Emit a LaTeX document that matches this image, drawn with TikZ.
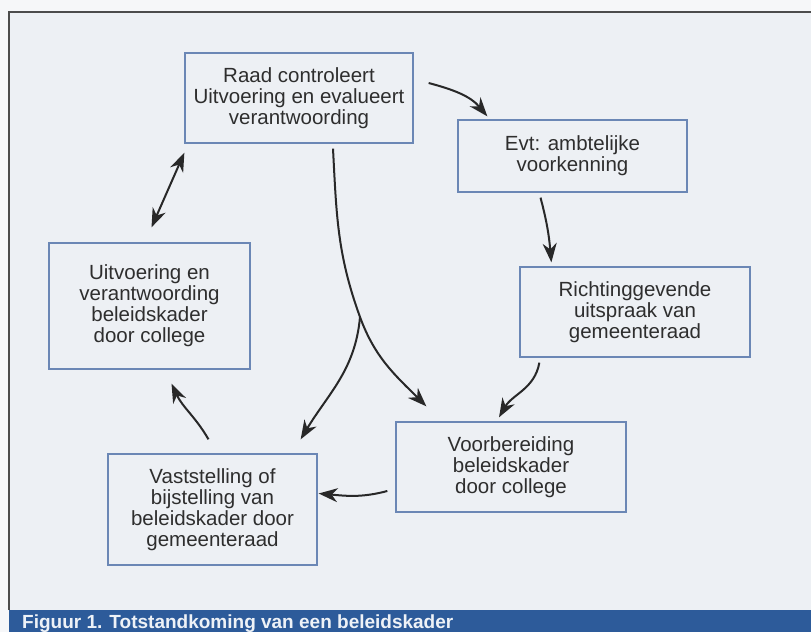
\documentclass[tikz,border=0pt]{standalone}
\usepackage{fontspec}
\setmainfont{Liberation Sans}
\usepackage{tikz}
\usetikzlibrary{arrows.meta}

\definecolor{kader}{RGB}{107,135,181}
\definecolor{vlak}{RGB}{237,240,244}
\definecolor{papier}{RGB}{246,247,249}
\definecolor{balk}{RGB}{45,91,154}
\definecolor{tekst}{RGB}{46,46,46}
\definecolor{lijn}{RGB}{40,40,40}

\tikzset{pijlpunt/.tip={Stealth[length=19pt, width=14pt, inset=6pt]}}

\begin{document}
\begin{tikzpicture}[x=1pt, y=1pt,
	box/.style={draw=kader, line width=1.3pt, text=tekst, align=center, inner sep=0pt, font=\fontsize{20.5}{21}\selectfont},
	pijl/.style={draw=lijn, line width=2pt, -pijlpunt}]
	\useasboundingbox (0,0) rectangle (811,632);
	\fill[papier] (0,0) rectangle (811,632);
	\fill[vlak] (9,22) rectangle (811,620);
	\draw[gray!60!black, line width=1.3pt] (9,22) -- (9,620) -- (811,620);
	\fill[balk] (9,0) rectangle (811,22);
	\node[anchor=base west, inner sep=0pt, text=white!92!balk, font=\fontsize{19}{20}\selectfont\bfseries] (titel) at (22,4) {Figuur 1. Totstandkoming van een beleidskader};
	% beleidscyclus
	\node[box, minimum width=228pt, minimum height=90pt] (A) at (299,534) {Raad controleert\\Uitvoering en evalueert\\verantwoording};
	\node[box, minimum width=229pt, minimum height=72pt] (B) at (572.5,476) {Evt: ambtelijke\\voorkenning};
	\node[box, minimum width=230pt, minimum height=90pt] (C) at (635,320) {Richtinggevende\\uitspraak van\\gemeenteraad};
	\node[box, minimum width=230pt, minimum height=90pt] (D) at (511,165) {Voorbereiding\\beleidskader\\door college};
	\node[box, minimum width=209pt, minimum height=111pt] (E) at (212.5,122.5) {Vaststelling of\\bijstelling van\\beleidskader door\\gemeenteraad};
	\node[box, minimum width=201pt, minimum height=126pt] (F) at (149.5,326) {Uitvoering en\\verantwoording\\beleidskader\\door college};
	\coordinate (split) at (360,315);
	\draw[pijl] ([xshift=15pt, yshift=15pt]A.east) to[out=-15, in=130] ([xshift=30pt, yshift=3pt]B.north west);
	\draw[pijl] ([xshift=-32pt, yshift=-5pt]B.south) to[out=-75, in=95] ([xshift=32pt, yshift=4pt]C.north west);
	\draw[pijl] ([xshift=20pt, yshift=-5pt]C.south west) to[out=-100, in=60] ([xshift=-12pt, yshift=4pt]D.north);
	\draw[pijl] ([xshift=-8pt, yshift=-24pt]D.west) to[out=195, in=-5] ([xshift=1pt, yshift=16pt]E.east);
	\draw[pijl] ([xshift=-4pt, yshift=14pt]E.north) to[out=120, in=-65] ([xshift=22pt, yshift=-14pt]F.south);
	\draw[pijl, pijlpunt-pijlpunt] ([xshift=2pt, yshift=15pt]F.north) -- ([yshift=-9pt]A.south west);
	\draw[pijl] ([xshift=34pt, yshift=-5pt]A.south) to[out=-87, in=110] (split) to[out=-70, in=135] ([xshift=31pt, yshift=15pt]D.north west);
	\draw[pijl] (split) to[out=-95, in=59] ([xshift=-17pt, yshift=14pt]E.north east);
\end{tikzpicture}
\end{document}
